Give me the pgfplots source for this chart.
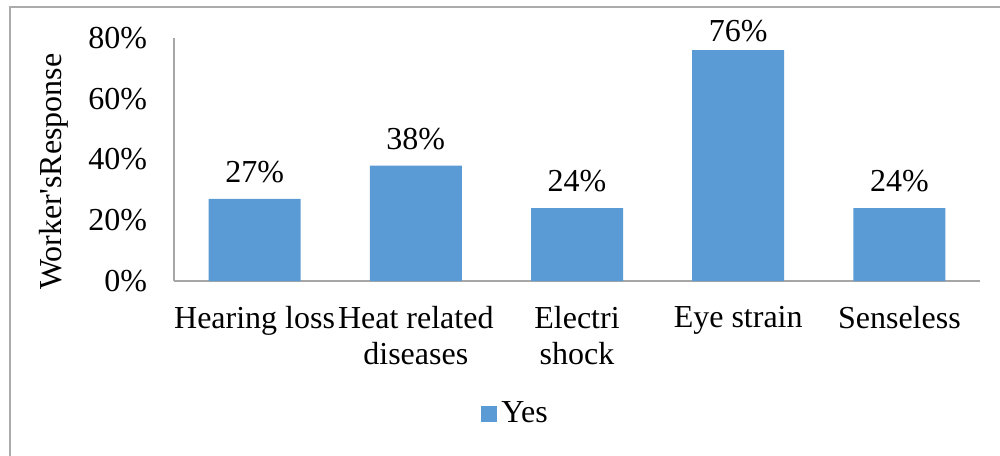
\documentclass[border=0pt]{standalone}
\usepackage{pgfplots}
\pgfplotsset{compat=1.18}
\usepackage{fontspec}
\setmainfont{Liberation Serif}
\definecolor{barblue}{HTML}{5B9BD5}
\definecolor{framegray}{HTML}{ABABAB}
\definecolor{axisgray}{HTML}{A6A6A6}
\begin{document}
\begin{tikzpicture}[font=\fontsize{16}{18.5}\selectfont]
\useasboundingbox (0,0) rectangle (500pt,-227.5pt);
\draw[framegray, line width=0.8pt] (5pt,-230pt) -- (5pt,-3.5pt) -- (502pt,-3.5pt);
\begin{axis}[
  at={(87pt,-140.5pt)}, anchor=south west,
  scale only axis, width=403pt, height=121.5pt,
  xmin=-0.5, xmax=4.5, ymin=0, ymax=80,
  axis lines*=left,
  axis line style={axisgray, line width=0.6pt},
  major tick length=0pt,
  ytick={0,20,40,60,80},
  yticklabel={\pgfmathprintnumber{\tick}\%},
  yticklabel style={xshift=-10pt},
  /pgf/number format/assume math mode=true,
  xtick=data,
  xticklabels={Hearing loss,Heat related\\diseases,Electri\\shock,Eye strain,Senseless},
  xticklabel style={align=center, yshift=-9pt, font=\fontsize{16}{18}\selectfont},
  ylabel={Worker\textquotesingle sResponse},
  ylabel style={at={(axis description cs:-0.149,0.45)}, anchor=center},
  ybar, bar width=46pt,
  visualization depends on={y \as \yval},
  nodes near coords={\pgfmathprintnumber{\pgfplotspointmeta}\%},
  nodes near coords style={yshift={(\yval>70 ? 0.5 : 4.5)*1pt}},
  legend style={draw=none, at={(axis description cs:0.425,-0.547)}, anchor=center, fill=none},
  legend image code/.code={\fill[barblue] (0pt,-4pt) rectangle (8pt,4pt);},
]
\addplot[fill=barblue, draw=none] coordinates {(0,27) (1,38) (2,24) (3,76) (4,24)};
\addlegendentry{Yes}
\end{axis}
\end{tikzpicture}
\end{document}
